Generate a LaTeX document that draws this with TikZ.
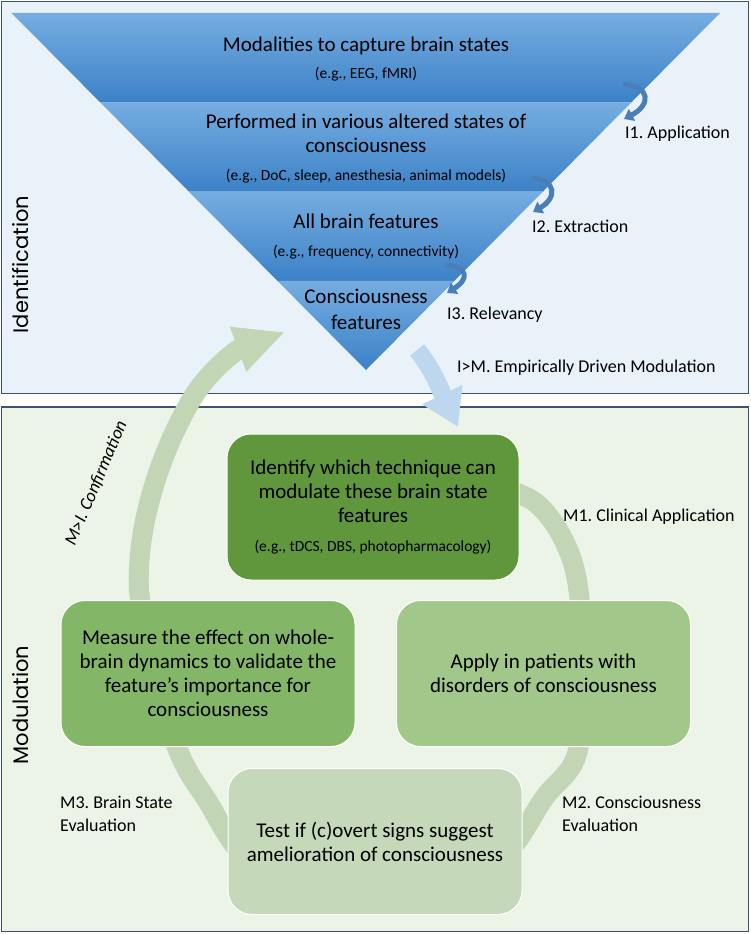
\documentclass[tikz,border=0pt]{standalone}
\usepackage{fontspec}
\setmainfont{Carlito}
\newfontfamily\sidefont{Poppins}
\usetikzlibrary{positioning, arrows.meta, calc}
\definecolor{panelblue}{RGB}{233,241,249}
\definecolor{panelgreen}{RGB}{236,243,231}
\definecolor{panelline}{RGB}{62,82,112}
\definecolor{bandlight}{RGB}{118,173,225}
\definecolor{banddark}{RGB}{60,129,199}
\definecolor{curlcolor}{RGB}{74,126,187}
\definecolor{flowblue}{RGB}{189,215,238}
\definecolor{cyclegreen}{RGB}{194,214,182}
\definecolor{techgreen}{RGB}{96,150,60}
\definecolor{measuregreen}{RGB}{131,182,102}
\definecolor{applygreen}{RGB}{161,199,139}
\definecolor{testgreen}{RGB}{197,217,186}
\newcommand\egsize{\fontsize{15.5}{27.5}\selectfont}
\frenchspacing

\begin{document}
\begin{tikzpicture}[x=1pt, y=-1pt,
    panel/.style={draw=panelline, line width=1.5pt},
    stagebox/.style={rounded corners=24pt, draw=white, line width=1pt,
      minimum width=294pt, minimum height=146pt, text width=280pt,
      align=flush center, font=\fontsize{21}{24}\selectfont},
    bandtext/.style={text width=480pt, align=flush center, anchor=base,
      inner sep=0pt, font=\fontsize{21}{24}\selectfont},
    steplabel/.style={text width=280pt, align=flush left, anchor=base west,
      inner sep=0pt, font=\fontsize{18}{23}\selectfont},
    sidetitle/.style={rotate=90, anchor=base, inner sep=0pt,
      font=\sidefont\fontsize{21}{24}\selectfont},
    curl/.style={draw=curlcolor, line width=5pt,
      -{Triangle[width=13pt,length=9pt]}}]
  \fill[white] (0,0) rectangle (750,934);
  \useasboundingbox (0,0) rectangle (750,934);
  \draw[panel, fill=panelblue] (1.5,1.5) rectangle (748.5,393.5);
  \draw[panel, fill=panelgreen] (1.5,407) rectangle (748.5,931.5);

  % funnel
  \coordinate (tl) at (11.5,13);
  \coordinate (tr) at (720,13);
  \coordinate (apex) at (366,370);
  \foreach \a/\b in {0/0.25, 0.25/0.5, 0.5/0.75, 0.75/1}
    \shade[top color=bandlight, bottom color=banddark]
      ($(tl)!\a!(apex)$) -- ($(tr)!\a!(apex)$) -- ($(tr)!\b!(apex)$)
      -- ($(tl)!\b!(apex)$) -- cycle;
  \foreach \sx/\sy/\ex/\ey/\bx in {623/84/624/119/651, 532/178/533/212/557, 445/265/447/293/469}
    \draw[curl] (\sx,\sy) .. controls (\bx,\sy+2) and (\bx,\ey-14) .. (\ex,\ey);

  % cycle and transfer arrows
  \coordinate (mi tail) at (470,478);
  \coordinate (mi head) at (285,332);
  \draw[cyclegreen, line width=20pt, -{Triangle[width=44pt,length=50pt]}]
    plot[smooth, tension=0.55] coordinates {(mi tail) (536,503) (572,560)
      (582,640) (578,750) (545,797) (490,868) (375,897) (258,868) (205,797)
      (178,750) (150,660) (139,590)}
    .. controls (136,530) and (158,458) .. (190,402)
    .. controls (207,372) and (236,350) .. (mi head);
  \coordinate (im tail) at (417,350);
  \coordinate (im head) at (458,427);
  \draw[flowblue, line width=18pt, -{Triangle[width=42pt,length=36pt]}]
    (im tail) .. controls (434,370) and (444,398) .. (im head);

  \node[stagebox, fill=techgreen, minimum width=292pt] (tech) at (373,507)
    {Identify which technique can\\ modulate these brain state\\ features\par
     {\fontsize{15.5}{29.5}\selectfont (e.g., tDCS, DBS, photopharmacology)\par}};
  \node[stagebox, fill=measuregreen] (measure) at (208,673.5)
    {Measure the effect on whole-\\ brain dynamics to validate the\\
     feature’s importance for\\ consciousness};
  \node[stagebox, fill=applygreen] (apply) at (543.5,673.5)
    {Apply in patients with\\ disorders of consciousness};
  \node[stagebox, fill=testgreen] (test) at (375,841.5)
    {Test if (c)overt signs suggest\\ amelioration of consciousness};

  \node[bandtext] (modalities) at (366,51.5)
    {Modalities to capture brain states\par{\egsize (e.g., EEG, fMRI)\par}};
  \node[bandtext] (states) at (366,128.5)
    {Performed in various altered states of\\ consciousness\par
     {\egsize (e.g., DoC, sleep, anesthesia, animal models)\par}};
  \node[bandtext] (allfeat) at (366,228.5)
    {All brain features\par{\egsize (e.g., frequency, connectivity)\par}};
  \node[bandtext, font=\fontsize{21}{25.5}\selectfont] (consfeat) at (366,303.5)
    {Consciousness\\ features};

  \node[steplabel] (app) at (625,138.5) {I1. Application};
  \node[steplabel] (ext) at (532,232.5) {I2. Extraction};
  \node[steplabel] (rel) at (447,319.5) {I3. Relevancy};
  \node[steplabel] (emp) at (457,372.5) {I>M. Empirically Driven Modulation};
  \node[steplabel] (clin) at (563,521.5) {M1. Clinical Application};
  \node[steplabel] (ceval) at (562,808.5) {M2. Consciousness\\ Evaluation};
  \node[steplabel] (beval) at (60,808.5) {M3. Brain State\\ Evaluation};
  \node[rotate=67, anchor=base, inner sep=0pt,
        font=\itshape\fontsize{18}{22}\selectfont] (conf) at (101,485)
    {M>I. Confirmation};

  \node[sidetitle] (ident) at (28.5,264.5) {Identification};
  \node[sidetitle] (modul) at (28.5,705) {Modulation};
\end{tikzpicture}
\end{document}
